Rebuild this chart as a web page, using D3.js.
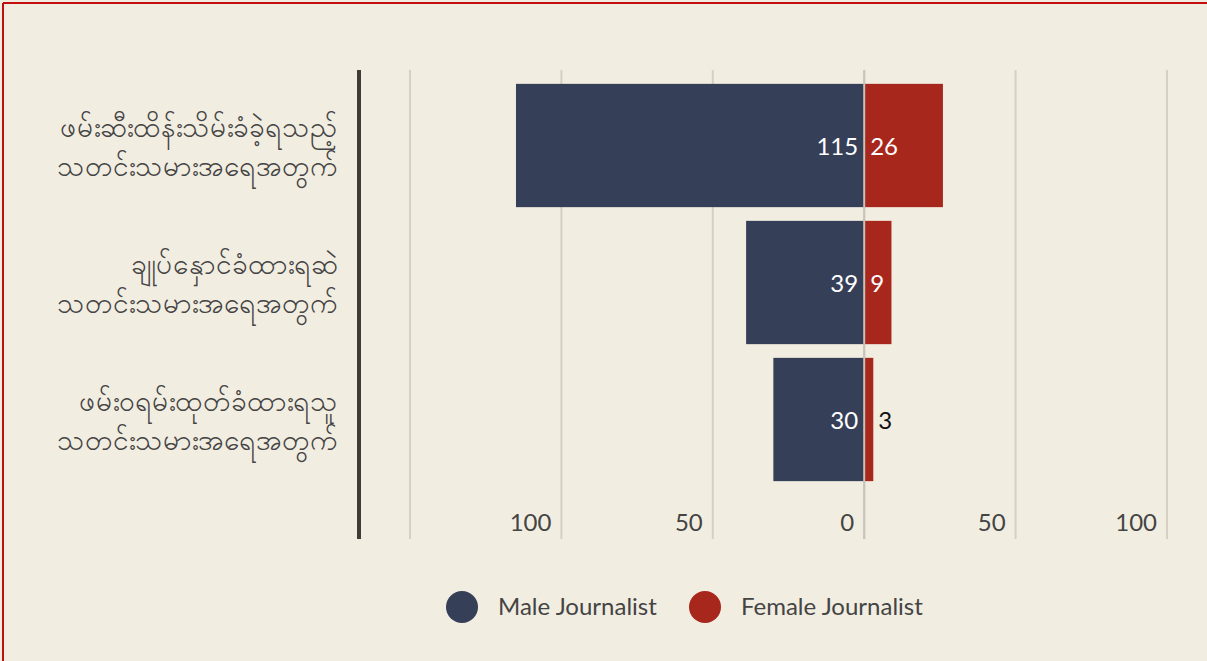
<!DOCTYPE html>
<html>
<head>
<meta charset="utf-8">
<script src="https://cdn.jsdelivr.net/npm/d3@7"></script>
<style>
  html, body { margin: 0; padding: 0; background: #f2ede1; }
  svg { display: block; }
  text { font-family: Lato, "Noto Sans", sans-serif; }
</style>
</head>
<body>
<svg id="chart" width="1207" height="661"></svg>
<script>
// Data
const categories = [
    ['ဖမ်းဆီးထိန်းသိမ်းခံခဲ့ရသည့်', 'သတင်းသမားအရေအတွက်'],
    ['ချုပ်နှောင်ခံထားရဆဲ', 'သတင်းသမားအရေအတွက်'],
    ['ဖမ်းဝရမ်းထုတ်ခံထားရသူ', 'သတင်းသမားအရေအတွက်']
];
const maleValues = [115, 39, 30];
const femaleValues = [26, 9, 3];
const gridValues = [-150, -100, -50, 0, 50, 100];
const tickValues = [-100, -50, 0, 50, 100];
const seriesNames = ['Male Journalist', 'Female Journalist'];

const COLORS = { male: '#363f58', female: '#a8271d', grid: '#d6d0c4', axis: '#3f3c38', text: '#444' };

const svg = d3.select('#chart');

// frame (top and left red edge)
svg.append('rect').attr('x', 0).attr('y', 0).attr('width', 1207).attr('height', 661).attr('fill', '#f2ede1');
svg.append('line').attr('x1', 3).attr('x2', 1207).attr('y1', 3).attr('y2', 3)
    .attr('stroke', '#c40d0d').attr('stroke-width', 2);
svg.append('line').attr('x1', 3).attr('x2', 3).attr('y1', 3).attr('y2', 661)
    .attr('stroke', '#c40d0d').attr('stroke-width', 2);

const x = d3.scaleLinear().domain([-150, 100]).range([410, 1167]);
const y = d3.scaleBand().domain(d3.range(categories.length)).range([77, 488])
    .paddingInner(0.1).paddingOuter(0.05);

const plotTop = 70, plotBottom = 539;

// gridlines
svg.append('g').selectAll('line').data(gridValues).join('line')
    .attr('x1', d => x(d)).attr('x2', d => x(d))
    .attr('y1', plotTop).attr('y2', plotBottom)
    .attr('stroke', COLORS.grid).attr('stroke-width', 2);

// tick labels
svg.append('g').selectAll('text').data(tickValues).join('text')
    .attr('x', d => x(d) - 10).attr('y', 531)
    .attr('text-anchor', 'end')
    .attr('font-size', 24).attr('fill', COLORS.text)
    .text(d => Math.abs(d));

// bars
const rows = svg.append('g').selectAll('g').data(categories.map((c, i) => i)).join('g');

rows.append('rect')
    .attr('x', i => x(-maleValues[i]))
    .attr('y', i => y(i))
    .attr('width', i => x(0) - x(-maleValues[i]))
    .attr('height', y.bandwidth())
    .attr('fill', COLORS.male);

rows.append('rect')
    .attr('x', x(0))
    .attr('y', i => y(i))
    .attr('width', i => x(femaleValues[i]) - x(0))
    .attr('height', y.bandwidth())
    .attr('fill', COLORS.female);

// zero line drawn over the bars
svg.append('line')
    .attr('x1', x(0)).attr('x2', x(0)).attr('y1', plotTop).attr('y2', plotBottom)
    .attr('stroke', '#c9c4ba').attr('stroke-width', 2);

// value labels
rows.append('text')
    .attr('x', x(0) - 6)
    .attr('y', i => y(i) + y.bandwidth() / 2 + 9)
    .attr('text-anchor', 'end')
    .attr('font-size', 24).attr('fill', '#fff')
    .text(i => maleValues[i]);

rows.append('text')
    .attr('x', i => {
        const w = x(femaleValues[i]) - x(0);
        return w > 20 ? x(0) + 6 : x(femaleValues[i]) + 5;
    })
    .attr('y', i => y(i) + y.bandwidth() / 2 + 9)
    .attr('font-size', 24)
    .attr('fill', i => (x(femaleValues[i]) - x(0) > 20 ? '#fff' : '#111'))
    .text(i => femaleValues[i]);

// left axis line
svg.append('line')
    .attr('x1', 359).attr('x2', 359).attr('y1', plotTop).attr('y2', plotBottom)
    .attr('stroke', COLORS.axis).attr('stroke-width', 4);

// category labels
const labels = svg.append('g').selectAll('text').data(categories).join('text')
    .attr('text-anchor', 'end')
    .attr('font-size', 28).attr('fill', COLORS.text)
    .attr('font-family', '"Noto Sans Myanmar", "Padauk", "Myanmar Text", sans-serif');
labels.each(function(lines, i) {
    const cy = y(i) + y.bandwidth() / 2;
    d3.select(this).selectAll('tspan').data(lines).join('tspan')
        .attr('x', 338)
        .attr('y', (d, j) => cy + (j === 0 ? -9 : 30))
        .text(d => d);
});

// legend
const legendItems = [
    { name: seriesNames[0], color: COLORS.male, cx: 462 },
    { name: seriesNames[1], color: COLORS.female, cx: 705 }
];
const legend = svg.append('g').selectAll('g').data(legendItems).join('g');
legend.append('circle')
    .attr('cx', d => d.cx).attr('cy', 607).attr('r', 16)
    .attr('fill', d => d.color);
legend.append('text')
    .attr('x', d => d.cx + 36).attr('y', 615)
    .attr('font-size', 24).attr('fill', COLORS.text)
    .text(d => d.name);
</script>
</body>
</html>
